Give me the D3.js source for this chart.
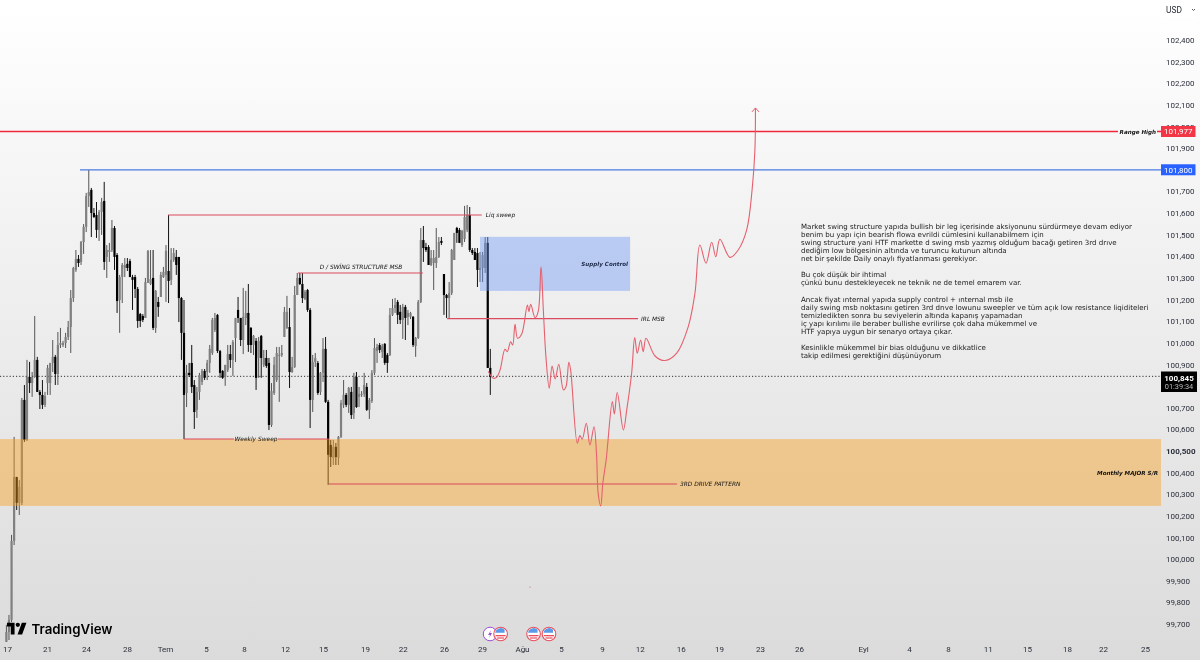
<!DOCTYPE html>
<html lang="tr"><head><meta charset="utf-8">
<script src="https://cdn.jsdelivr.net/npm/d3@7/dist/d3.min.js"></script>
<style>html,body{margin:0;padding:0;background:#fff;overflow:hidden}svg{display:block;filter:blur(.4px)}</style>
</head><body><svg id="c" width="1200" height="660"></svg>
<script>
const opens=[99617,99663,99719,100084,100380,100260,100260,100736,100551,100842,100814,100842,100921,100773,100759,100713,100814,100814,100907,100935,100856,100990,100990,100999,101027,101073,101207,101337,101388,101374,101466,101536,101679,101707,101600,101591,101522,101605,101656,101397,101420,101429,101531,101406,101198,101304,101346,101365,101378,101304,101304,101249,101133,101124,101115,101277,101272,101300,101069,101189,101212,101304,101314,101332,101291,101383,101397,101397,101207,101046,100768,100861,100907,100805,100690,100773,100819,100870,100865,100907,100953,101059,101129,100962,100870,100842,100874,100948,100921,101022,101152,101115,101013,101115,101138,101069,100990,101009,100930,101032,100898,100930,100907,100620,100768,100828,100939,100944,101027,101069,101073,100865,100888,101221,101300,101272,101203,101244,101152,100736,100911,100907,100773,100861,100972,100727,100528,100468,100519,100468,100565,100713,100759,100713,100773,100676,100842,100750,100759,100764,100796,100690,100731,100861,100962,100990,100958,100995,100944,100944,101129,101161,101189,101143,101106,101166,101120,101120,101120,100985,101022,101189,101475,101443,101443,101360,101369,101369,101397,101471,101318,101221,101207,101230,101383,101531,101522,101452,101480,101522,101591,101429,101420,101415,101337,101346,101346,101462,100884];
const highs=[99696,99742,100112,100565,100380,100366,100745,100805,100921,100912,100865,101124,100935,100782,100828,100773,100898,100907,101013,100944,101050,101069,101009,101046,101101,101244,101351,101429,101406,101471,101549,101693,101799,101716,101623,101651,101614,101670,101744,101452,101462,101568,101540,101415,101314,101369,101392,101392,101388,101314,101314,101258,101138,101133,101300,101429,101429,101429,101244,101212,101328,101351,101452,101591,101438,101438,101429,101397,101212,101198,100898,100907,100990,100828,100796,100861,100879,100879,100921,100990,101115,101138,101133,100967,100874,100898,100990,100990,101013,101115,101212,101115,101254,101240,101272,101073,101036,101022,101027,101036,100967,100967,100930,100814,100935,100981,100981,100990,101166,101217,101161,100935,101263,101323,101323,101323,101244,101249,101161,100944,100953,100916,100865,101022,101027,100736,100551,100551,100537,100569,100736,100828,100768,100796,100796,100861,100865,100796,100777,100861,100814,100745,100874,101022,100995,100999,100995,100999,100953,101161,101203,101207,101198,101175,101180,101175,101152,101143,101124,101027,101198,101531,101540,101462,101452,101429,101429,101531,101489,101489,101318,101226,101281,101434,101508,101536,101531,101522,101633,101637,101628,101438,101438,101438,101420,101420,101489,101489,100972];
const lows=[99617,99626,99709,100065,100227,100204,100250,100542,100546,100768,100750,100838,100773,100694,100694,100703,100759,100759,100865,100805,100805,100976,100981,100976,101013,100953,101189,101328,101351,101360,101411,101512,101628,101489,101577,101485,101471,101499,101337,101300,101374,101420,101337,101138,101046,101184,101304,101332,101304,101152,101207,101069,101073,101096,101115,101277,101267,101059,101046,101120,101212,101300,101189,101184,101267,101374,101314,101096,100921,100555,100703,100842,100768,100602,100653,100736,100805,100828,100828,100861,100944,101050,100953,100838,100833,100801,100865,100884,100847,100911,101092,100985,100948,101082,100958,100953,100944,100782,100838,100838,100888,100884,100597,100611,100759,100819,100727,100935,101027,101064,100791,100861,100884,101221,101267,101184,101198,101143,100606,100680,100888,100759,100759,100819,100722,100343,100426,100435,100435,100435,100560,100699,100703,100676,100648,100648,100699,100703,100750,100750,100685,100648,100722,100851,100907,100953,100930,100898,100861,100939,101124,101138,101087,101087,101018,101013,101082,101110,100981,100935,101018,101184,101374,101420,101360,101355,101244,101346,101392,101452,101129,101115,101115,101221,101383,101462,101462,101443,101466,101512,101420,101406,101383,101258,101281,101281,101323,100884,100759];
const closes=[99663,99719,100084,100380,100260,100334,100736,100551,100842,100814,100842,100921,100773,100759,100713,100754,100884,100907,100935,100856,100990,100999,100999,101027,101073,101207,101346,101388,101369,101466,101536,101679,101697,101600,101582,101522,101605,101651,101374,101429,101429,101531,101397,101193,101304,101360,101360,101346,101304,101291,101249,101101,101101,101106,101281,101425,101295,101069,101240,101166,101314,101328,101425,101286,101383,101415,101360,101207,101046,100759,100861,100851,100796,100680,100773,100851,100870,100838,100907,100972,101106,101115,100962,100861,100838,100898,100948,100921,101004,101115,101115,101013,101120,101138,100990,100990,101032,100838,101009,100930,100930,100893,100620,100777,100898,100953,100944,100953,101143,101143,100865,100888,101221,101300,101272,101207,101235,101152,100736,100911,100930,100768,100861,100972,100727,100482,100472,100519,100472,100565,100722,100759,100713,100791,100666,100842,100703,100764,100764,100805,100690,100736,100861,100976,100981,100967,100985,100907,100907,101129,101161,101175,101129,101106,101166,101115,101138,101138,100990,101022,101189,101475,101438,101429,101360,101392,101392,101397,101466,101462,101221,101207,101230,101429,101508,101508,101462,101517,101582,101591,101429,101415,101383,101337,101346,101406,101462,100884,100842];

const priceTicks=[102400,102300,102200,102100,102000,101900,101700,101600,101500,101400,101300,101200,101100,101000,100900,100700,100600,100500,100400,100300,100200,100100,100000,99900,99800,99700];
const timeLabels=["17","21","24","28","Tem","5","8","12","15","19","22","26","29","Ağu","5","9","12","16","19","23","26","Eyl","4","8","11","15","18","22","25"];
const timeBars=[0.2,15.8,30.9,46.9,61.6,77.5,92.3,108.2,123,139.3,154,170,184.8,200.3,215.5,231.4,246.1,262,276.8,292.8,307.9,332.8,350.7,365.8,381.3,396.5,412,426,442.3];

const pathBars=[187.2,189.2,190.5,191.8,193.7,194.6,195.9,196.7,197.6,198.6,200.2,202.4,203,203.7,205.4,206.6,207.7,208.6,209.6,210.9,212,213.2,214.6,216.4,217.4,218.5,219.2,221.8,222.8,223.7,225.3,226.7,228.3,229.3,229.9,230.9,231.7,233,235.4,236.2,237.3,239.7,241,242.9,244.1,245.1,246.4,247.4,248.5,252,255.9,260.4,264.9,267.5,269.4,271.8,274,275.6,277.2,281.1,284.3,287.6,289.7,290.8,291];
const pathPrices=[100867,100836,100841,100875,100970,100959,101005,100990,101086,101021,101041,101175,101144,101178,101116,101144,101352,101152,100936,100790,100893,100833,100901,100782,100797,100910,100875,100536,100571,100554,100628,100528,100612,100474,100304,100246,100351,100458,100728,100671,100770,100597,100690,100859,101024,100952,101013,100959,101021,100939,100918,100952,101075,101229,101452,101368,101465,101398,101479,101395,101429,101522,101707,101892,102086];

const levelNames=["Liq sweep","D / SWİNG STRUCTURE MSB","IRL MSB","Weekly Sweep","3RD DRIVE PATTERN"];
const levelStart=[62.8,113.3,171.2,69,125.3];
const levelEnd=[184.7,161.8,245.4,125.3,260.5];
const levelPrice=[101591,101323,101112,100555,100347];

const rangeHigh=101977, blueLevel=101800, lastPrice=100845;
const noteLines=["Market swing structure yapıda bullish bir leg içerisinde aksiyonunu sürdürmeye devam ediyor","benim bu yapı için bearish flowa evrildi cümlesini kullanabilmem için","swing structure yani HTF markette d swing msb yazmış olduğum bacağı getiren 3rd drıve","dediğim low bölgesinin altında ve turuncu kutunun altında","net bir şekilde Daily onaylı fiyatlanması gerekiyor.","","Bu çok düşük bir ihtimal","çünkü bunu destekleyecek ne teknik ne de temel emarem var.","","Ancak fiyat ınternal yapıda supply control + ınternal msb ile","daily swing msb noktasını getiren 3rd drıve lowunu sweepler ve tüm açık low resistance liqiditeleri","temizledikten sonra bu seviyelerin altında kapanış yapamadan","iç yapı kırılımı ile beraber bullishe evrilirse çok daha mükemmel ve","HTF yapıya uygun bir senaryo ortaya çıkar.","","Kesinlikle mükemmel bir bias olduğunu ve dikkatlice","takip edilmesi gerektiğini düşünüyorum"];
const eventBars=[187.9,192,204.8,210.8];
const eventKinds=["bolt","flag","flag","flag"];

const svg=d3.select("#c");
const x=d3.scaleLinear([0,100],[6.4,263.8]);
const y=d3.scaleLinear([99700,102400],[624,40]);
const rightEdge=1161;
const fmt=d3.format(",");

const defs=svg.append("defs");
const g=defs.append("linearGradient").attr("id","bg").attr("x1",0).attr("x2",0).attr("y1",0).attr("y2",1);
g.append("stop").attr("offset",0).attr("stop-color","#ffffff");
g.append("stop").attr("offset",.35).attr("stop-color","#f2f2f2");
g.append("stop").attr("offset",1).attr("stop-color","#dbdbdb");
svg.append("rect").attr("width",1200).attr("height",660).attr("fill","url(#bg)");

svg.append("line").attr("x1",0).attr("x2",rightEdge).attr("y1",y(lastPrice)).attr("y2",y(lastPrice))
  .attr("stroke","#333").attr("stroke-width",1).attr("stroke-dasharray","1.2 2");

const candles=opens.map((o,i)=>({i,o,h:highs[i],l:lows[i],c:closes[i]}));
const cg=svg.append("g");
cg.selectAll("line").data(candles).join("line")
  .attr("x1",d=>x(d.i)).attr("x2",d=>x(d.i)).attr("y1",d=>y(d.h)).attr("y2",d=>y(d.l))
  .attr("stroke",d=>d.c>=d.o?"#555":"#111").attr("stroke-width",1);
cg.selectAll("rect").data(candles).join("rect")
  .attr("x",d=>x(d.i)-1.1).attr("width",2.2)
  .attr("y",d=>y(Math.max(d.o,d.c))).attr("height",d=>Math.max(1,Math.abs(y(d.o)-y(d.c))))
  .attr("fill",d=>d.c>=d.o?"#808080":"#000");

svg.append("rect").attr("x",0).attr("width",rightEdge).attr("y",y(100555)).attr("height",y(100246)-y(100555))
  .attr("fill","rgb(248,160,30)").attr("fill-opacity",.44);
svg.append("rect").attr("x",x(184)).attr("width",x(242.3)-x(184)).attr("y",y(101490)).attr("height",y(101240)-y(101490))
  .attr("fill","rgb(107,150,242)").attr("fill-opacity",.42);

const lc="#dc4a60";
levelNames.forEach((n,i)=>{
  const yy=y(levelPrice[i]);
  if(i===3){
    svg.append("line").attr("x1",x(levelStart[i])).attr("x2",234).attr("y1",yy).attr("y2",yy).attr("stroke",lc).attr("stroke-width",1.1);
    svg.append("line").attr("x1",278).attr("x2",x(levelEnd[i])).attr("y1",yy).attr("y2",yy).attr("stroke",lc).attr("stroke-width",1.1);
  } else {
    svg.append("line").attr("x1",x(levelStart[i])).attr("x2",x(levelEnd[i])).attr("y1",yy).attr("y2",yy).attr("stroke",lc).attr("stroke-width",1.1);
  }
});
const lab=(t,xx,yy,anchor,bold)=>svg.append("text").attr("x",xx).attr("y",yy).attr("text-anchor",anchor||"start")
  .attr("font-family","'DejaVu Sans',sans-serif").attr("font-size",bold?5.6:5.9).attr("font-style","italic").attr("font-weight",bold?"bold":"normal").attr("fill","#111").text(t);
lab(levelNames[0],x(184.7)+4,y(levelPrice[0])+2.2);
lab(levelNames[1],361,y(levelPrice[1])-4,"middle");
lab(levelNames[2],x(245.4)+3,y(levelPrice[2])+2.2);
lab(levelNames[3],256,y(levelPrice[3])+2.2,"middle");
lab(levelNames[4],x(260.5)+3,y(levelPrice[4])+2.2);
lab("Supply Control",628,266,"end",true).attr("fill","#1d2a4a");
lab("Monthly MAJOR S/R",1158,475,"end",true);

svg.append("line").attr("x1",0).attr("x2",1118).attr("y1",y(rangeHigh)).attr("y2",y(rangeHigh)).attr("stroke","#f0283c").attr("stroke-width",1.6);
svg.append("line").attr("x1",1157).attr("x2",rightEdge).attr("y1",y(rangeHigh)).attr("y2",y(rangeHigh)).attr("stroke","#f0283c").attr("stroke-width",1.6);
lab("Range High",1156,y(rangeHigh)+2.2,"end",true);
svg.append("line").attr("x1",x(28.6)).attr("x2",rightEdge).attr("y1",y(blueLevel)).attr("y2",y(blueLevel)).attr("stroke","#4a7be0").attr("stroke-width",1.3);

const line=d3.line().x(d=>x(d[0])).y(d=>y(d[1])).curve(d3.curveCatmullRom.alpha(.5));
const pts=pathBars.map((b,i)=>[b,pathPrices[i]]);
svg.append("path").attr("d",line(pts)).attr("fill","none").attr("stroke","#e5606e").attr("stroke-width",1.1);
const tip=pts[pts.length-1], tx=x(tip[0]), ty=y(tip[1]);
svg.append("path").attr("d",`M${tx-3.5},${ty+4}L${tx},${ty}L${tx+3.5},${ty+4}`).attr("fill","none").attr("stroke","#e5606e").attr("stroke-width",1);
svg.append("circle").attr("cx",530).attr("cy",587).attr("r",.6).attr("fill","#e2505f");

svg.append("g").selectAll("text").data(noteLines).join("text")
  .attr("x",801).attr("y",(d,i)=>229+i*8.06).attr("font-family","'DejaVu Sans',sans-serif").attr("font-size",7.05).attr("fill","#222").text(d=>d);

const axY=d3.axisRight(y).tickValues(priceTicks).tickSize(0).tickPadding(0).tickFormat(fmt);
const ay=svg.append("g").attr("transform","translate(1166,0)").call(axY);
ay.select(".domain").remove();
ay.selectAll("text").attr("font-family","Roboto,sans-serif").attr("font-size",8).attr("fill","#2a2e39");
ay.selectAll("text").filter(d=>d===100500).attr("font-weight","bold");

const axX=d3.axisBottom(x).tickValues(timeBars).tickSize(0).tickPadding(0).tickFormat((d,i)=>timeLabels[i]);
const ax=svg.append("g").attr("transform","translate(0,646)").call(axX);
ax.select(".domain").remove();
ax.selectAll("text").attr("font-family","Roboto,sans-serif").attr("font-size",8).attr("fill","#2a2e39");

function badge(v,fill,w){
  const yy=y(v);
  svg.append("rect").attr("x",rightEdge).attr("y",yy-5.5).attr("width",w).attr("height",11).attr("fill",fill);
  svg.append("text").attr("x",rightEdge+w/2).attr("y",yy+3).attr("text-anchor","middle").attr("font-family","Roboto,sans-serif").attr("font-size",8).attr("fill","#fff").text(fmt(v));
}
badge(rangeHigh,"#f23645",34.5);
badge(blueLevel,"#2962ff",34.5);
svg.append("rect").attr("x",rightEdge).attr("y",371.5).attr("width",36).attr("height",20.5).attr("fill","#000");
svg.append("text").attr("x",rightEdge+18).attr("y",380.5).attr("text-anchor","middle").attr("font-family","Roboto,sans-serif").attr("font-size",8).attr("font-weight","bold").attr("fill","#fff").text(fmt(lastPrice));
svg.append("text").attr("x",rightEdge+18).attr("y",389).attr("text-anchor","middle").attr("font-family","Roboto,sans-serif").attr("font-size",7.4).attr("fill","#bbb").text("01:39:34");

svg.append("rect").attr("x",1163).attr("y",3).attr("width",34).attr("height",15).attr("rx",2).attr("fill","#fff");
svg.append("text").attr("x",1166).attr("y",13).attr("font-family","Roboto,sans-serif").attr("font-size",8.4).attr("fill","#2a2e39").text("USD");
svg.append("path").attr("d","M1192,9l1.5,1.5l1.5,-1.5").attr("fill","none").attr("stroke","#2a2e39").attr("stroke-width",.8);

const logo=svg.append("g").attr("transform","translate(7,620.5) scale(.54)");
logo.append("path").attr("d","M14 26H7V11H0V4h14v22zM28 26h-8.5l8-22h8.5L28 26z").attr("fill","#000");
logo.append("circle").attr("cx",20).attr("cy",8).attr("r",4).attr("fill","#000");
svg.append("text").attr("x",31.5).attr("y",633.5).attr("font-family","Inter,sans-serif").attr("font-size",13.3).attr("font-weight",600).attr("fill","#000").text("TradingView");

eventBars.forEach((b,i)=>{
  const e=svg.append("g").attr("transform",`translate(${x(b)},634)`);
  if(eventKinds[i]==="bolt"){
    e.append("circle").attr("r",6.8).attr("fill","#fff").attr("stroke","#9c4fd6").attr("stroke-width",1);
    e.append("path").attr("d","M1,-4L-2,1H0L-1,4L2,-1H0Z").attr("fill","#9c4fd6");
  } else {
    e.append("circle").attr("r",6.8).attr("fill","#fff").attr("stroke","#e8505f").attr("stroke-width",1.1);
    e.append("path").attr("d","M-5.5,-1.2A5.6,5.6 0 0 1 4,-4.2L4,-1.2Z").attr("fill","#5a9be8");
    e.append("rect").attr("x",-5).attr("y",1).attr("width",10).attr("height",1.3).attr("fill","#e8505f");
    e.append("rect").attr("x",-3.5).attr("y",3.4).attr("width",7).attr("height",1.2).attr("fill","#e8505f");
  }
});
</script></body></html>
